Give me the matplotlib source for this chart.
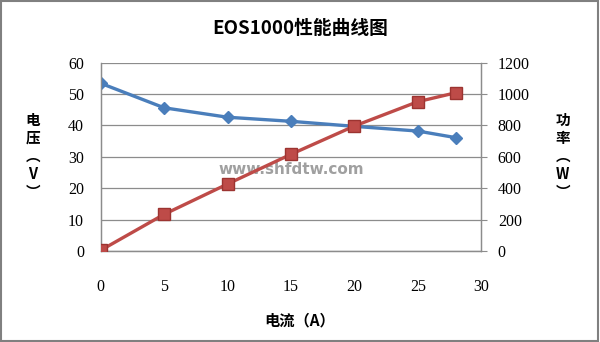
import matplotlib
matplotlib.use('Agg')
import matplotlib.pyplot as plt
from matplotlib.patches import Rectangle

plt.rcParams['font.family'] = ['Noto Sans CJK SC', 'DejaVu Sans']

# data
current = [0, 5, 10, 15, 20, 25, 28]
voltage = [53.4, 45.6, 42.6, 41.3, 39.7, 38.2, 36.1]
power = [5, 234, 427, 616, 796, 951, 1008]
xticks = [0, 5, 10, 15, 20, 25, 30]
vticks = [0, 10, 20, 30, 40, 50, 60]
pticks = [0, 200, 400, 600, 800, 1000, 1200]

grey = '#8c8c8c'
serif = ['Liberation Serif', 'DejaVu Serif']

fig = plt.figure(figsize=(6, 3.42), dpi=100)
fig.patches.append(Rectangle((0.002, 0.003), 0.995, 0.993, transform=fig.transFigure,
                             fill=False, edgecolor='#808080', lw=1.5))
ax1 = fig.add_axes([0.168, 0.266, 0.634, 0.551])
ax2 = ax1.twinx()

ax1.plot(current, voltage, color='#4a7ebb', lw=2.4, marker='D', ms=6.5,
         markerfacecolor='#4a7ebb', markeredgecolor='#4a7ebb', zorder=3)
ax2.plot(current, power, color='#be4b48', lw=2.4, marker='s', ms=8.5,
         markerfacecolor='#be4b48', markeredgecolor='#9c3431', zorder=3)

ax1.set_xlim(0, 30)
ax1.set_ylim(0, 60)
ax2.set_ylim(0, 1200)
ax1.set_xticks(xticks)
ax1.set_yticks(vticks)
ax2.set_yticks(pticks)
ax1.grid(axis='y', color=grey, lw=0.9)
ax1.set_axisbelow(True)

ax1.spines['top'].set_visible(False)
ax2.spines['top'].set_visible(False)
for ax in (ax1, ax2):
    for sp in ['left', 'right', 'bottom']:
        ax.spines[sp].set_color(grey)
        ax.spines[sp].set_linewidth(0.9)

ax1.tick_params(axis='x', length=0, pad=20, labelsize=11.5, colors='black')
ax1.tick_params(axis='y', length=0, pad=12, labelsize=11.5)
ax2.tick_params(axis='y', length=4, direction='out', color=grey, pad=8, labelsize=11.5)
for lab in ax1.get_xticklabels() + ax1.get_yticklabels() + ax2.get_yticklabels():
    lab.set_family(serif)

fig.text(0.5, 0.918, 'EOS1000性能曲线图', ha='center', va='center',
         fontsize=13.5, fontweight='bold')
fig.text(0.5, 0.064, '电流（A）', ha='center', va='center',
         fontsize=11, fontweight='bold')
fig.text(0.055, 0.545, '电\n压\n︵\nV\n︶', ha='center', va='center',
         fontsize=10.5, fontweight='bold', linespacing=1.15)
fig.text(0.938, 0.545, '功\n率\n︵\nW\n︶', ha='center', va='center',
         fontsize=10.5, fontweight='bold', linespacing=1.15)

ax1.text(15, 25.8, 'www.shfdtw.com', ha='center', va='center', fontsize=11,
         fontweight='bold', color='#a0a0a0', family=['DejaVu Sans'], zorder=2)

fig.savefig('out.png', dpi=100)
